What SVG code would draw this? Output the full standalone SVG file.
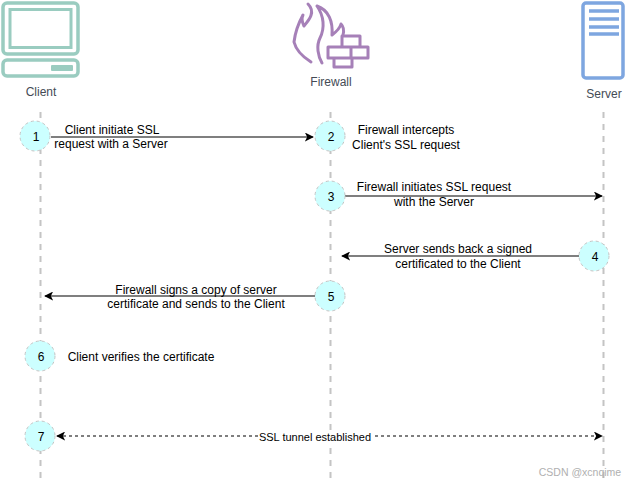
<svg xmlns="http://www.w3.org/2000/svg" width="628" height="484" viewBox="0 0 628 484">
<style>
text{font-family:"Liberation Sans",Arial,sans-serif;font-size:12px;fill:#000;text-anchor:middle}
.lbl{fill:#444b55}
.life{stroke:#c4c4c4;stroke-width:2;stroke-dasharray:6 6;fill:none}
.step{fill:#ccffff;stroke:#c4c4c4;stroke-width:1;stroke-dasharray:3 3}
.msg{stroke:#000;stroke-width:1.2;fill:none}
.bg{fill:#fff;stroke:none}
</style>
<defs>
<marker id="a" viewBox="0 0 10 10" refX="9" refY="5" markerWidth="9" markerHeight="9" markerUnits="userSpaceOnUse" orient="auto-start-reverse"><path d="M0 0L10 5L0 10L2.5 5Z" fill="#000"/></marker>
</defs>
<rect width="628" height="484" fill="#fff"/>
<g id="lifelines">
<path class="life" d="M40.500 112V480M330.500 112V480M603.500 112V480"/>
</g>
<g id="connectors">
<path class="msg" d="M51 137H313" marker-end="url(#a)"/>
<path class="msg" d="M345 196H602" marker-end="url(#a)"/>
<path class="msg" d="M580 256H342" marker-end="url(#a)"/>
<path class="msg" d="M316 296H45" marker-end="url(#a)"/>
<path class="msg" d="M57 436H602" stroke-dasharray="3 3" marker-start="url(#a)" marker-end="url(#a)"/>
<rect class="bg" x="258" y="430" width="114" height="13"/>
<text x="315" y="441" style="font-size:11px">SSL tunnel established</text>
</g>
<g id="client">
<rect x="3" y="3" width="75" height="51" rx="4" fill="none" stroke="#9accc0" stroke-width="3.500"/>
<rect x="10" y="9.500" width="61" height="38" fill="none" stroke="#9accc0" stroke-width="3"/>
<rect x="3" y="60" width="75" height="16" rx="4" fill="none" stroke="#9accc0" stroke-width="3.500"/>
<rect x="51" y="65" width="22" height="6" rx="1" fill="#9accc0"/>
<text class="lbl" x="41" y="96">Client</text>
</g>
<g id="firewall">
<path d="M308 4C316 12 309 20 304 26C301 20 302 17 303 15C298 24 295 34 294 42C296 50 303 57 311 62M317 6C329 10 333 22 332 35C336 32 340 28 341 24C344 27 344 31 343 35M317 6C324 16 325 28 320 38C316 46 318 56 322 63" fill="none" stroke="#a680b8" stroke-width="3" stroke-linecap="round" stroke-linejoin="round"/>
<path d="M342 36H360V47H368V58H352V67H334V58H328V47H342ZM328 47H368M328 58H368M342 36V47M351 47V58M360 36V47M334 58V67" fill="#fff" stroke="#a680b8" stroke-width="3" stroke-linejoin="round"/>
<text class="lbl" x="331" y="86">Firewall</text>
</g>
<g id="server">
<rect x="583" y="3" width="40" height="75" rx="3" fill="#fff" stroke="#7ea6e0" stroke-width="3.500"/>
<path d="M589 11H619M589 19H619M589 27H619M589 34H619" stroke="#7ea6e0" stroke-width="3.500"/>
<text class="lbl" x="604" y="98">Server</text>
</g>
<g id="step1"><circle class="step" cx="35" cy="136" r="15"/><text x="36" y="141">1</text></g>
<g id="step2"><circle class="step" cx="330" cy="136" r="15"/><text x="331" y="141">2</text></g>
<g id="step3"><circle class="step" cx="330" cy="196" r="15"/><text x="331" y="201">3</text></g>
<g id="step4"><circle class="step" cx="594" cy="256" r="15"/><text x="595" y="261">4</text></g>
<g id="step5"><circle class="step" cx="330" cy="296" r="15"/><text x="331" y="301">5</text></g>
<g id="step6"><circle class="step" cx="40" cy="356" r="15"/><text x="41" y="361">6</text></g>
<g id="step7"><circle class="step" cx="40" cy="436" r="15"/><text x="41" y="441">7</text></g>
<g id="labels">
<text x="112" y="134">Client initiate SSL</text>
<text x="111" y="148">request with a Server</text>
<text x="406" y="134">Firewall intercepts</text>
<text x="406" y="149">Client's SSL request</text>
<text x="434" y="191">Firewall initiates SSL request</text>
<text x="434" y="206">with the Server</text>
<text x="458" y="253">Server sends back a signed</text>
<text x="458" y="268">certificated to the Client</text>
<text x="196" y="294">Firewall signs a copy of server</text>
<text x="196" y="308">certificate and sends to the Client</text>
<text x="141" y="361">Client verifies the certificate</text>
<text x="580" y="476" style="fill:#b0b0b0;font-size:10.500px">CSDN @xcnqime</text>
</g>
</svg>
